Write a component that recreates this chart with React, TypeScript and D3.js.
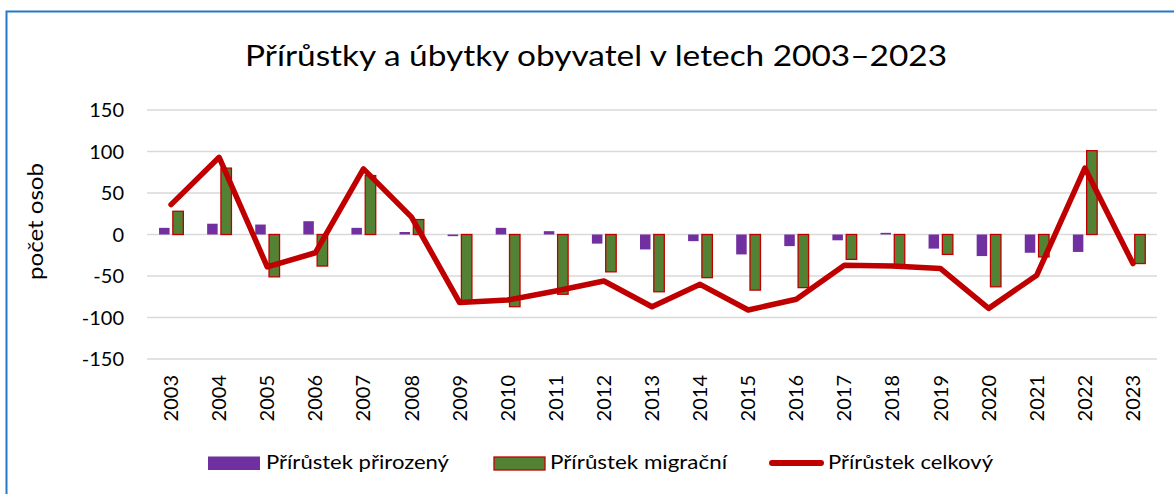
import React from "react";
import * as d3 from "d3";

const years = ["2003","2004","2005","2006","2007","2008","2009","2010","2011","2012","2013","2014","2015","2016","2017","2018","2019","2020","2021","2022","2023"];
const natural = [8, 13, 12, 16, 8, 3, -2, 8, 4, -11, -18, -8, -24, -14, -7, 2, -17, -26, -22, -21, 0];
const migration = [28, 80, -51, -38, 71, 18, -80, -87, -72, -45, -69, -52, -67, -64, -30, -40, -24, -63, -27, 101, -35];
const total = [36, 93, -39, -22, 79, 21, -82, -79, -68, -56, -87, -60, -91, -78, -37, -38, -41, -89, -49, 80, -35];
const yTicks = [150, 100, 50, 0, -50, -100, -150];

const W = 1174, H = 494;
const FONT = "Lato, 'Open Sans', sans-serif";
const PURPLE = "#7030A0", GREEN = "#548235", RED = "#C00000";

export default function App() {
  const x = d3.scaleBand<string>().domain(years).range([147, 1157]).padding(0);
  const y = d3.scaleLinear().domain([-150, 150]).range([359, 110]);
  const bw = 10.5;
  const cx = (yr: string) => (x(yr) as number) + x.bandwidth() / 2;
  const line = d3.line<number>()
    .x((_, i) => cx(years[i]))
    .y((d) => y(d));

  return (
    <svg width={W} height={H} style={{ position: "absolute", left: 0, top: 0, background: "#fff" }} fontFamily={FONT}>
      <rect x={0} y={0} width={W} height={H} fill="#fff" />
      <rect x={6.5} y={11.5} width={W + 20} height={H + 20} fill="none" stroke="#2479C7" strokeWidth={2} />
      <text x={596} y={66} textAnchor="middle" fontSize={29} fill="#000" textLength={702} lengthAdjust="spacingAndGlyphs">
        Přírůstky a úbytky obyvatel v letech 2003–2023
      </text>
      {yTicks.map((t) => (
        <g key={t}>
          <line x1={147} x2={1157} y1={y(t)} y2={y(t)} stroke="#D9D9D9" strokeWidth={1.5} />
          <text x={124} y={y(t) + 7} textAnchor="end" fontSize={20} fill="#000">{t}</text>
        </g>
      ))}
      <text transform={`translate(43,221.5) rotate(-90)`} textAnchor="middle" fontSize={21} fill="#000" textLength={117} lengthAdjust="spacingAndGlyphs">počet osob</text>
      {years.map((yr, i) => (
        <g key={yr}>
          <rect x={cx(yr) - 12} y={y(Math.max(0, natural[i]))} width={bw} height={Math.abs(y(natural[i]) - y(0))} fill={PURPLE} />
          <rect x={cx(yr) + 1.8} y={y(Math.max(0, migration[i]))} width={bw} height={Math.abs(y(migration[i]) - y(0))} fill={GREEN} stroke={RED} strokeWidth={1.3} />
          <text transform={`translate(${cx(yr) + 7},375) rotate(-90)`} textAnchor="end" fontSize={20} fill="#000">{yr}</text>
        </g>
      ))}
      <path d={line(total) || ""} fill="none" stroke={RED} strokeWidth={5.5} strokeLinejoin="round" strokeLinecap="round" />
      <g fontSize={20} fill="#000">
        <rect x={208} y={456.5} width={52} height={13.5} fill={PURPLE} />
        <text x={266} y={469} textLength={183} lengthAdjust="spacingAndGlyphs">Přírůstek přirozený</text>
        <rect x={494} y={457} width={51} height={13} fill={GREEN} stroke={RED} strokeWidth={1.3} />
        <text x={550} y={469} textLength={177} lengthAdjust="spacingAndGlyphs">Přírůstek migrační</text>
        <line x1={772} x2={821} y1={463} y2={463} stroke={RED} strokeWidth={6} strokeLinecap="round" />
        <text x={828} y={469} textLength={165} lengthAdjust="spacingAndGlyphs">Přírůstek celkový</text>
      </g>
    </svg>
  );
}
